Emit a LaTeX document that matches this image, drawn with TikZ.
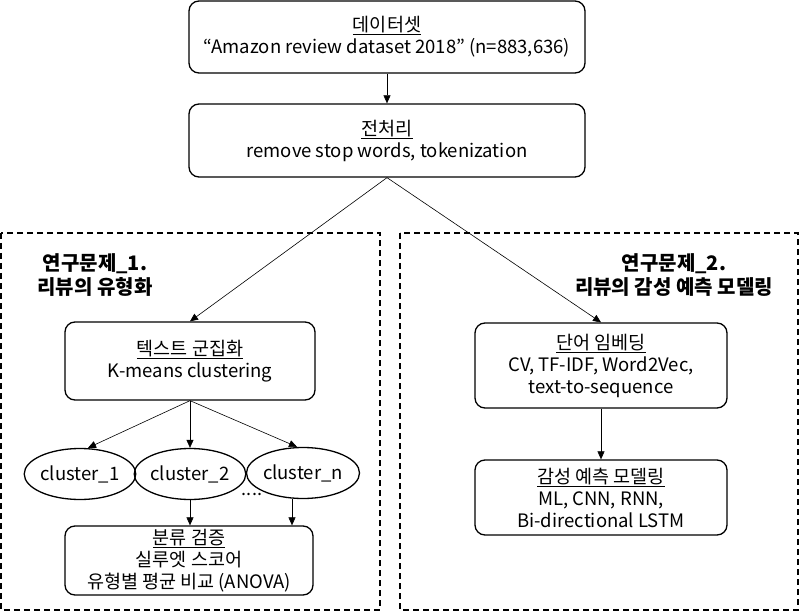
\documentclass[tikz,border=0pt]{standalone}
\usepackage{fontspec}
\setmainfont{Noto Sans CJK KR}
\usetikzlibrary{arrows.meta,shapes.geometric}
\tikzset{
  stepnode/.style={draw, rounded corners=10pt, line width=1.3pt, align=center, inner sep=0pt, font=\fontsize{18.5}{22}\selectfont},
  clusternode/.style={draw, ellipse, line width=1.3pt, inner sep=0pt, minimum width=106pt, minimum height=51pt, font=\fontsize{18.5}{22}\selectfont},
  groupbox/.style={draw, dash pattern=on 6pt off 4pt, line width=1.4pt},
  titlenode/.style={align=center, font=\fontsize{20}{24}\selectfont\bfseries},
  flow/.style={-{Triangle[length=8pt,width=7pt]}, line width=0.6pt},
}
\begin{document}
\begin{tikzpicture}[x=1pt,y=-1pt]
		\useasboundingbox (0,0) rectangle (800,612);
		% pipeline on top
		\node[stepnode, minimum width=396pt, minimum height=72pt] (data) at (387,37) {\underline{데이터셋}\\“Amazon review dataset 2018” (n=883,636)};
		\node[stepnode, minimum width=396pt, minimum height=73pt] (prep) at (387,140.5) {\underline{전처리}\\remove stop words, tokenization};
		% the two research questions
		\draw[groupbox] (1,233) rectangle (380,610);
		\draw[groupbox] (400,233) rectangle (798,610);
		\node[titlenode] (title1) at (95,275) {연구문제\_1.\\리뷰의 유형화};
		\node[titlenode] (title2) at (674,275) {연구문제\_2.\\리뷰의 감성 예측 모델링};
		% left side
		\node[stepnode, minimum width=250pt, minimum height=78pt] (clus) at (190,361) {\underline{텍스트 군집화}\\K-means clustering};
		\node[clusternode] (c1) at (80,474) {cluster\_1};
		\node[clusternode] (c2) at (190,474) {cluster\_2};
		\node[clusternode, minimum width=109pt] (cn) at (303,473) {cluster\_n};
		\node[font=\fontsize{18}{22}\selectfont] (dots) at (252,494) {....};
		\node[stepnode, minimum width=248pt, minimum height=69pt] (eval) at (189,560.5) {\underline{분류 검증}\\실루엣 스코어\\유형별 평균 비교 (ANOVA)};
		% right side
		\node[stepnode, minimum width=252pt, minimum height=85pt] (embed) at (601,365.5) {\underline{단어 임베딩}\\CV, TF-IDF, Word2Vec,\\text-to-sequence};
		\node[stepnode, minimum width=252pt, minimum height=75pt] (model) at (601,497.5) {\underline{감성 예측 모델링}\\ML, CNN, RNN,\\Bi-directional LSTM};
		% connectors
		\draw[flow] (data) -- (prep);
		\draw[flow] (prep.south) -- (clus.north);
		\draw[flow] (prep.south) -- (embed.north);
		\draw[flow] (clus.south) -- ([xshift=8pt]c1.north);
		\draw[flow] (clus.south) -- (c2.north);
		\draw[flow] (clus.south) -- ([xshift=-6pt]cn.north);
		\draw[flow] (c2.south) -- (c2.south |- eval.north);
		\draw[flow] ([xshift=-11pt]cn.south) -- ([xshift=-11pt]cn.south |- eval.north);
		\draw[flow] (embed) -- (model);
	\end{tikzpicture}
\end{document}
